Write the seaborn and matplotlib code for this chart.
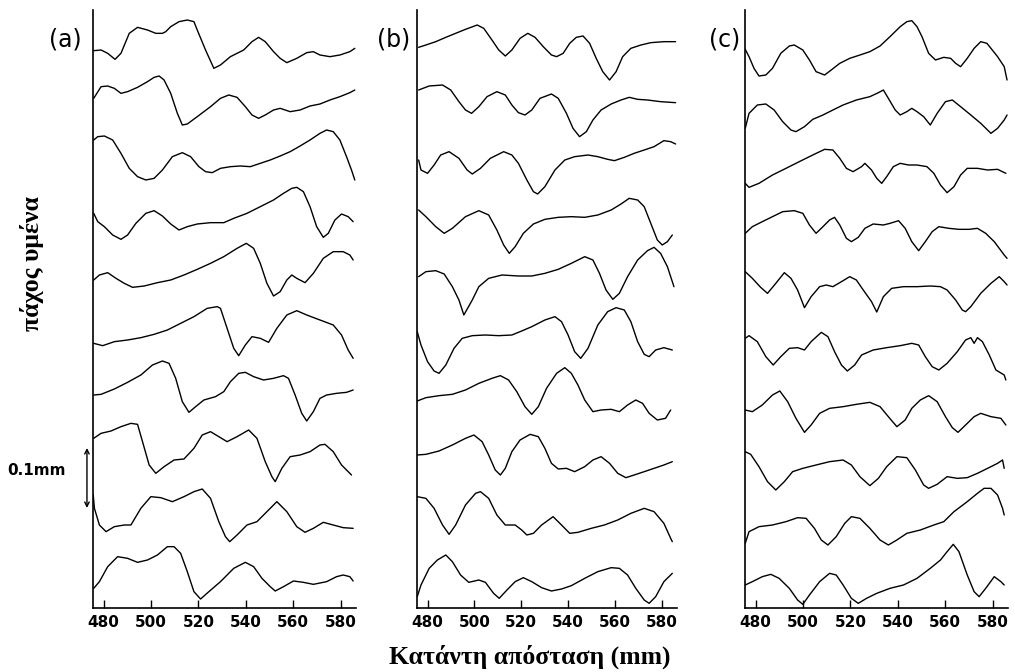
import matplotlib
matplotlib.use("Agg")
import matplotlib.pyplot as plt
import matplotlib.transforms as mtransforms
import pandas as pd
import seaborn as sns

# ---------------- data: film-thickness traces (x in mm, thickness in 1/1800 mm) ----------------
# panel (a)
a0_x = [475.8,478.9,481.7,484.8,487.3,490.8,494.3,498.5,502.0,504.8,506.2,508.3,511.8,515.3,518.1,519.5,523.0,526.5,529.3,533.5,539.1,542.6,545.4,548.2,551.7,554.5,557.3,561.5,565.7,568.5,571.3,575.5,579.7,583.9,586.0]
a0_v = [82,84,74,56,74,134,152,144,134,134,139,154,169,174,169,144,84,29,39,64,84,109,122,109,79,59,46,59,76,79,69,64,69,79,89]
a1_x = [475.8,478.9,481.7,484.5,487.3,490.1,494.3,498.5,501.3,503.4,505.5,508.3,511.1,513.2,515.3,519.5,525.1,529.3,532.8,536.3,539.8,542.6,545.4,548.2,551.7,554.5,558.7,562.9,567.1,571.3,575.5,579.7,583.9,586.0]
a1_v = [113,148,150,143,128,133,146,163,176,180,168,128,68,33,36,58,88,113,123,116,88,63,53,63,78,83,73,78,90,96,108,118,130,138]
a2_x = [475.8,477.5,480.3,483.8,487.3,490.8,494.3,497.8,501.3,504.8,509.0,513.2,516.7,520.2,523.0,525.8,529.3,533.5,537.7,541.9,546.1,550.3,554.5,558.7,562.9,567.1,571.3,574.1,576.9,579.7,582.5,584.6,586.0]
a2_v = [162,172,174,162,122,77,52,42,47,72,112,124,112,82,67,64,77,82,84,82,92,102,114,127,144,162,182,192,187,162,112,72,42]
a3_x = [475.8,477.5,480.3,483.8,487.3,490.1,493.6,497.8,501.3,504.8,508.3,511.8,515.3,519.5,525.1,530.7,534.9,540.5,546.1,551.7,555.9,559.4,561.5,564.3,567.1,569.9,572.7,574.8,577.6,580.4,583.2,585.3]
a3_v = [116,91,76,51,38,51,86,116,124,108,84,66,76,84,88,88,101,116,136,156,176,191,194,181,136,76,44,56,96,114,106,91]
a4_x = [475.8,478.2,481.7,485.2,488.7,492.2,497.1,502.7,508.3,513.9,519.5,525.1,530.7,536.3,540.2,543.3,546.1,548.9,551.7,554.5,557.3,559.4,561.5,565.0,568.5,572.7,576.9,581.1,583.9,585.3]
a4_v = [90,105,112,95,80,68,72,82,90,105,122,140,160,185,200,185,140,80,42,55,90,105,95,82,110,155,175,175,165,150]
a5_x = [475.8,479.6,484.5,490.1,495.7,501.3,506.9,512.5,518.1,523.7,527.9,529.3,532.1,534.9,537.0,539.8,542.6,546.1,549.6,553.1,557.3,561.5,565.7,571.3,576.9,580.4,583.2,585.3]
a5_v = [74,67,79,84,91,101,114,134,154,179,184,179,119,59,37,69,94,89,77,119,159,172,159,144,129,99,54,29]
a6_x = [475.8,478.9,484.5,490.1,495.7,500.6,504.8,507.6,510.4,513.2,516.0,518.8,522.3,527.2,530.7,533.5,537.0,539.8,543.3,547.5,551.7,555.9,558.0,560.8,563.6,565.7,568.5,571.3,574.1,578.3,582.5,585.3]
a6_v = [93,95,111,131,153,183,195,188,143,73,41,58,78,88,103,133,158,161,148,138,143,151,143,93,38,15,43,83,93,98,101,108]
a7_x = [475.8,478.9,483.1,487.3,491.5,494.3,496.4,499.2,502.0,505.5,509.7,513.9,518.1,521.6,525.1,528.6,532.1,536.3,541.2,544.7,548.2,551.0,552.4,555.2,558.7,562.9,567.1,571.3,573.4,576.9,580.4,584.6]
a7_v = [137,152,159,172,182,179,127,57,32,52,72,75,107,147,157,142,127,142,162,137,67,22,7,47,82,87,97,117,119,97,57,27]
a8_x = [475.6,476.1,478.2,481.0,484.5,488.7,491.5,495.7,499.9,504.1,509.0,513.9,518.1,521.6,525.1,528.6,531.4,533.2,536.3,540.5,544.7,548.9,553.1,557.3,561.5,565.0,568.5,572.7,576.9,581.1,585.3]
a8_v = [141,101,51,31,46,51,51,101,136,133,121,136,151,159,131,61,16,1,21,51,61,91,121,91,46,29,41,59,51,43,41]
a9_x = [475.8,478.2,481.7,485.9,490.1,494.3,498.5,502.7,506.9,509.7,512.5,515.3,518.1,520.9,524.4,529.3,534.9,539.8,543.3,546.8,550.3,552.4,555.9,560.1,564.3,568.5,574.1,578.3,581.1,583.9,585.3]
a9_v = [35,55,100,130,125,113,120,135,160,160,140,85,25,3,25,55,95,113,100,65,40,27,40,57,53,47,55,70,75,70,57]

# panel (b)
b0_x = [476.2,479.3,483.5,487.8,492.0,496.2,501.2,504.0,507.5,510.4,513.2,516.0,519.5,522.8,525.9,529.4,532.9,535.1,537.9,540.7,543.5,546.4,549.2,552.0,554.8,557.7,560.5,563.3,566.8,571.1,575.3,580.9,585.9]
b0_v = [92,99,109,122,134,146,159,149,114,84,66,84,119,134,122,94,69,64,74,104,122,126,104,59,19,-6,19,64,89,99,106,109,109]
b1_x = [476.2,480.7,486.4,489.9,493.4,496.2,498.8,501.9,505.4,509.6,513.2,516.0,518.8,521.6,524.5,528.0,532.9,535.8,539.3,542.1,544.9,547.8,550.6,554.1,558.4,562.6,566.1,569.7,573.9,579.5,585.9]
b1_v = [138,150,153,138,103,78,68,88,118,133,123,93,70,63,78,113,126,113,68,23,-2,13,48,78,96,108,116,110,108,103,100]
b2_x = [476.2,477.2,480.0,482.8,485.6,489.2,493.4,496.9,499.1,502.6,506.8,512.5,516.0,518.8,522.4,525.2,527.0,530.1,534.4,538.6,542.8,548.5,552.7,556.9,559.8,564.0,568.2,572.5,576.7,580.9,583.8,585.9]
b2_v = [102,72,62,87,117,127,107,72,60,77,107,127,117,92,42,7,0,22,72,102,112,117,112,104,100,110,122,132,142,160,157,150]
b3_x = [476.2,479.3,483.5,487.1,490.6,496.2,501.9,506.1,509.6,512.5,514.9,517.4,520.9,525.2,530.1,535.8,541.4,547.1,552.7,558.4,562.6,566.1,569.7,572.5,575.3,578.1,580.2,582.4,584.5]
b3_v = [126,106,76,56,71,106,124,111,66,21,-4,16,56,84,98,104,106,104,111,126,144,161,156,136,86,36,21,31,51]
b4_x = [476.2,479.3,483.5,487.1,490.6,493.4,495.5,499.1,501.9,506.1,511.8,518.8,524.5,530.1,535.8,541.4,547.1,550.6,553.4,556.2,559.1,561.9,565.4,569.7,573.9,576.7,579.5,582.4,585.2]
b4_v = [100,115,118,108,70,30,-15,30,70,95,105,102,102,110,122,140,160,150,110,60,32,50,100,150,178,188,170,130,70]
b5_x = [475.6,477.2,480.0,482.8,484.9,487.8,491.3,494.8,499.1,504.7,510.4,516.0,520.2,524.5,530.1,534.4,537.2,540.0,542.8,545.4,548.5,552.7,556.9,560.5,564.0,566.8,569.7,572.5,574.6,577.4,580.9,584.5]
b5_v = [109,69,19,-9,-16,9,59,89,97,99,97,99,111,124,144,154,139,99,49,29,59,129,169,181,174,139,79,41,34,54,61,54]
b6_x = [475.6,479.3,484.9,490.6,496.2,501.9,507.5,511.1,514.6,518.1,521.6,524.5,527.3,530.8,535.1,538.6,541.4,544.2,547.1,550.6,554.1,558.4,561.9,565.4,568.9,571.8,574.6,578.1,581.6,583.8]
b6_v = [75,85,91,95,108,128,143,151,138,103,58,35,58,113,158,175,158,123,78,43,48,50,43,63,78,68,38,18,23,48]
b7_x = [475.6,479.3,484.9,490.6,496.2,499.8,503.3,506.1,508.9,511.1,513.2,516.0,519.5,523.8,527.3,530.1,532.9,535.8,539.3,542.8,547.1,550.6,554.1,557.7,561.2,564.7,568.2,572.5,576.7,580.9,584.5]
b7_v = [87,89,99,117,137,147,127,87,42,27,47,97,132,149,142,107,62,45,47,37,52,72,82,62,32,19,27,37,47,57,67]
b8_x = [475.6,479.3,482.8,486.4,489.2,492.0,496.2,500.5,502.6,506.1,509.6,513.2,517.4,520.2,522.4,525.2,528.7,533.6,537.2,540.7,544.2,549.9,555.5,561.2,566.8,572.5,576.7,580.9,583.8,584.5]
b8_v = [136,131,101,51,23,51,111,146,151,131,81,51,51,36,21,26,51,76,51,26,29,41,51,66,86,101,91,56,11,1]
b9_x = [475.6,477.2,480.7,484.2,487.8,490.6,494.1,497.6,501.9,504.7,508.2,510.6,513.9,517.4,520.9,524.5,528.7,532.9,537.2,541.4,547.1,552.7,558.4,561.9,565.4,568.9,572.5,574.6,577.4,580.9,584.5]
b9_v = [10,45,95,120,135,115,75,53,60,53,20,5,30,55,67,55,37,27,33,43,65,85,97,95,75,35,0,-10,10,55,80]

# panel (c)
c0_x = [475.6,477.2,479.3,481.4,484.3,487.1,490.6,494.2,496.3,499.9,502.7,505.5,509.1,511.9,515.5,519.7,524.0,528.2,532.5,536.7,541.0,543.8,545.9,548.1,550.2,553.0,555.9,559.4,562.3,564.4,566.5,569.3,572.2,575.0,577.6,579.3,582.1,584.9,586.1]
c0_v = [86,64,29,6,9,29,74,96,99,84,54,19,9,24,44,59,69,79,96,124,154,169,172,154,124,74,54,62,59,44,34,59,89,109,104,89,64,34,-6]
c1_x = [475.6,477.2,480.7,484.3,487.8,491.4,494.9,497.0,500.6,504.1,508.4,512.6,516.9,522.5,528.2,531.8,533.9,536.0,538.9,541.0,543.8,545.9,548.1,550.9,553.7,556.6,560.1,563.0,566.5,570.8,575.0,579.3,582.1,584.9,586.1]
c1_v = [23,68,93,96,78,43,18,13,28,50,63,78,93,108,118,130,138,113,78,63,73,83,73,58,33,68,103,108,88,63,38,8,23,48,63]
c2_x = [475.6,477.2,481.4,487.1,492.8,498.4,504.1,509.1,512.6,515.5,518.3,521.1,524.7,526.1,528.9,531.1,533.2,535.3,538.1,541.0,544.5,548.1,552.3,555.2,558.0,560.8,563.7,566.5,569.3,573.6,577.9,582.1,585.6]
c2_v = [32,20,32,57,77,97,117,134,132,107,77,67,82,92,72,47,32,52,82,92,87,87,82,62,27,4,22,57,77,77,72,74,62]
c3_x = [475.6,478.6,482.8,487.1,491.4,496.3,499.9,502.7,505.5,508.4,511.2,513.3,515.5,518.3,520.4,523.3,526.1,529.6,533.9,536.7,540.3,543.1,545.9,548.8,551.6,554.5,557.3,561.5,565.8,570.1,573.6,577.1,580.7,584.9,586.1]
c3_v = [56,76,91,106,121,124,116,81,56,76,96,104,81,41,31,44,71,84,81,86,94,71,31,4,31,61,76,71,68,68,71,56,31,-9,-19]
c4_x = [475.6,478.6,482.1,485.0,488.5,492.1,494.9,497.7,500.6,503.4,507.0,509.8,512.6,516.2,519.7,522.5,525.4,528.9,531.1,533.9,537.4,542.4,548.1,553.7,558.0,560.8,564.4,567.2,568.6,570.8,575.0,579.3,582.8,584.9,586.1]
c4_v = [115,95,68,50,80,112,95,60,7,40,70,75,70,85,100,90,60,25,-6,40,65,70,70,72,70,60,30,0,-5,10,50,80,100,85,75]
c5_x = [475.6,477.2,480.7,484.3,487.4,490.6,494.2,497.7,500.6,503.4,507.7,510.5,513.3,516.2,518.7,521.8,524.7,529.6,535.3,541.0,545.9,548.8,551.6,554.5,557.3,560.8,565.1,568.6,570.8,572.2,573.6,575.7,578.6,581.4,584.9,585.6]
c5_v = [89,97,79,34,9,34,59,61,54,79,107,94,49,9,-9,9,39,54,61,67,74,69,34,4,-6,14,49,84,91,74,91,79,39,-6,-21,-36]
c6_x = [475.6,478.6,482.8,487.1,490.2,493.5,497.0,500.6,503.4,507.0,511.2,516.9,522.5,528.2,532.5,536.0,539.6,543.1,545.9,549.5,553.0,556.6,560.1,563.0,565.4,568.6,572.2,575.0,579.3,583.5,585.6]
c6_v = [48,43,63,93,105,73,23,-19,3,38,53,58,65,71,58,28,-2,18,53,78,91,73,28,-5,-19,3,28,38,28,23,3]
c7_x = [475.6,477.9,481.4,485.0,488.5,492.1,495.6,499.9,505.5,511.2,516.9,520.4,524.0,528.2,531.8,535.3,539.6,543.8,547.4,550.9,553.0,556.6,560.8,565.1,569.3,573.6,577.9,582.1,584.2,584.9]
c7_v = [97,89,52,7,-18,7,37,47,57,67,72,57,22,-5,17,52,82,79,42,-3,-13,-1,22,17,19,32,47,62,72,47]
c8_x = [475.6,477.2,481.4,487.1,492.8,497.7,501.3,504.8,507.7,510.5,514.0,517.6,520.4,524.0,528.2,532.5,536.0,539.6,543.8,549.5,555.2,559.4,563.7,569.3,573.6,576.4,579.3,582.1,584.2,584.9]
c8_v = [-4,31,46,51,61,73,71,41,6,-9,16,56,76,71,41,6,-9,6,26,36,51,61,91,121,146,161,161,141,101,81]
c9_x = [475.6,478.6,482.8,486.4,489.9,494.2,497.7,499.9,502.7,507.0,511.2,514.0,516.9,520.4,523.3,526.8,531.1,536.7,542.4,548.1,553.7,558.0,560.8,563.4,565.8,569.3,572.2,574.3,577.1,580.7,583.5,584.9]
c9_v = [45,55,70,77,65,35,0,-13,15,55,80,75,45,5,-10,5,20,35,45,65,95,120,145,167,145,75,25,10,35,70,55,45]

panel_labels = ["(a)", "(b)", "(c)"]
x_ticks = [480, 500, 520, 540, 560, 580]
x_label = "Κατάντη απόσταση (mm)"
y_label = "πάχος υμένα"
scale_label = "0.1mm"
scale_mm = 0.1
units_per_mm = 1800
spacing = 174

panels = [
    [(a0_x, a0_v), (a1_x, a1_v), (a2_x, a2_v), (a3_x, a3_v), (a4_x, a4_v),
     (a5_x, a5_v), (a6_x, a6_v), (a7_x, a7_v), (a8_x, a8_v), (a9_x, a9_v)],
    [(b0_x, b0_v), (b1_x, b1_v), (b2_x, b2_v), (b3_x, b3_v), (b4_x, b4_v),
     (b5_x, b5_v), (b6_x, b6_v), (b7_x, b7_v), (b8_x, b8_v), (b9_x, b9_v)],
    [(c0_x, c0_v), (c1_x, c1_v), (c2_x, c2_v), (c3_x, c3_v), (c4_x, c4_v),
     (c5_x, c5_v), (c6_x, c6_v), (c7_x, c7_v), (c8_x, c8_v), (c9_x, c9_v)],
]

# ---------------- drawing ----------------
sns.set_theme(style="ticks")
plt.rcParams["font.family"] = ["DejaVu Sans"]

W, H = 1015, 672
fig = plt.figure(figsize=(W / 100, H / 100), dpi=100)

ax_rects = [
    [93 / W, 64 / H, 263 / W, 598 / H],
    [417 / W, 64 / H, 260 / W, 598 / H],
    [745 / W, 64 / H, 263 / W, 598 / H],
]
label_right = [82, 410, 740]

axes = []
for p, traces in enumerate(panels):
    ax = fig.add_axes(ax_rects[p])
    rows = []
    n = len(traces)
    for k, (xs, vs) in enumerate(traces):
        assert len(xs) == len(vs), (p, k, len(xs), len(vs))
        off = (n - 1 - k) * spacing
        for xv, vv in zip(xs, vs):
            rows.append({"x": xv, "y": off + vv, "trace": k})
    df = pd.DataFrame(rows)
    sns.lineplot(data=df, x="x", y="y", units="trace", estimator=None, sort=False,
                 color="black", linewidth=1.0, ax=ax, legend=False)
    for line in ax.get_lines():
        line.set_solid_joinstyle("round")
    ax.set_xlim(475.5, 586.5)
    ax.set_ylim(-24, 1770)
    ax.set_xticks(x_ticks)
    ax.set_xticklabels([str(t) for t in x_ticks])
    ax.set_yticks([])
    ax.set_xlabel("")
    ax.set_ylabel("")
    for s in ["top", "right"]:
        ax.spines[s].set_visible(False)
    for s in ["left", "bottom"]:
        ax.spines[s].set_color("black")
        ax.spines[s].set_linewidth(1.2)
    ax.tick_params(axis="x", direction="in", length=6, width=1.0, color="black",
                   labelsize=11, pad=5, labelcolor="black")
    for lab in ax.get_xticklabels():
        lab.set_fontweight("bold")
    ax.set_facecolor("white")
    fig.text(label_right[p] / W, 1 - 40 / H, panel_labels[p], ha="right", va="center",
             fontsize=17, color="black")
    axes.append(ax)

# scale bar in panel (a)
ax = axes[0]
trans = mtransforms.blended_transform_factory(ax.transAxes, ax.transData)
y0 = 276
ax.annotate("", xy=(-0.023, y0), xytext=(-0.023, y0 + scale_mm * units_per_mm),
            xycoords=trans, textcoords=trans,
            arrowprops=dict(arrowstyle="<->", lw=1.0, color="black",
                            shrinkA=0, shrinkB=0, mutation_scale=8),
            annotation_clip=False)
ax.text(-0.105, y0 + scale_mm * units_per_mm * 0.63, scale_label, transform=trans,
        ha="right", va="center", fontsize=11, fontweight="bold", color="black")

fig.text(530 / W, 1 - 657 / H, x_label, ha="center", va="center",
         family="Liberation Serif", fontweight="bold", fontsize=18.5, color="black")
fig.text(32 / W, 1 - 264 / H, y_label, ha="center", va="center", rotation=90,
         family="Liberation Serif", fontweight="bold", fontsize=18.5, color="black")

fig.savefig("out.png", dpi=100, facecolor="white")
